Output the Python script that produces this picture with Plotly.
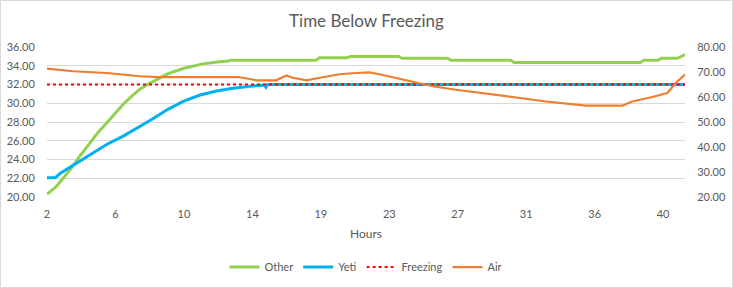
import plotly.graph_objects as go

# ---- data ----
tick_labels = ["2", "6", "10", "14", "19", "23", "27", "31", "36", "40"]

other_hours = [2.0, 2.5, 3.0, 3.42, 4.0, 4.65, 5.2, 5.68, 6.2, 6.7, 7.2, 7.73, 8.3, 8.85,
               9.4, 10.4, 11.6, 12.5, 13.2, 13.3, 18.6, 18.8, 20.5, 20.7, 23.7, 23.9,
               26.7, 26.9, 30.6, 30.8, 38.6, 38.8, 39.7, 39.9, 40.9, 41.35]
other_vals = [20.3, 21.0, 22.0, 22.9, 24.3, 25.8, 27.0, 27.9, 28.9, 29.9, 30.7, 31.5, 32.1, 32.6,
              33.1, 33.7, 34.2, 34.4, 34.5, 34.6, 34.6, 34.85, 34.85, 35.0, 35.0, 34.8,
              34.8, 34.6, 34.6, 34.35, 34.35, 34.6, 34.6, 34.8, 34.8, 35.2]

yeti_hours = [2.0, 2.5, 2.8, 3.62, 4.65, 5.68, 6.7, 7.73, 8.3, 8.85, 9.4, 10.4, 11.4,
              12.45, 13.47, 14.5, 15.1, 15.4, 15.5, 15.6, 41.35]
yeti_vals = [22.05, 22.05, 22.5, 23.4, 24.5, 25.6, 26.5, 27.5, 28.1, 28.7, 29.3, 30.2, 30.85,
             31.3, 31.6, 31.8, 31.95, 31.95, 31.7, 32.0, 32.0]

freezing_hours = [2.0, 41.35]
freezing_vals = [32.0, 32.0]

air_hours = [2.0, 3.62, 5.68, 7.73, 8.85, 13.78, 14.5, 14.91, 16.14, 16.45, 16.76, 17.1,
             18.0, 19.0, 20.04, 21.07, 21.89, 22.5, 23.53, 24.77, 25.79, 27.23, 28.66,
             30.71, 32.77, 35.23, 37.49, 38.1, 39.33, 40.26, 40.78, 41.39]
air_vals = [71.4, 70.3, 69.6, 68.3, 68.0, 68.0, 67.2, 66.7, 66.7, 67.6, 68.6, 67.8,
            66.7, 67.9, 69.1, 69.6, 69.8, 69.1, 67.6, 65.6, 64.3, 62.9, 61.8,
            60.0, 58.2, 56.6, 56.6, 58.2, 60.0, 61.6, 65.6, 69.2]

# ---- figure ----
FONT = "Lato"
GREY = "#595959"

fig = go.Figure()
fig.add_trace(go.Scatter(x=other_hours, y=other_vals, name="Other", mode="lines",
                         line=dict(color="#92D050", width=3)))
fig.add_trace(go.Scatter(x=yeti_hours, y=yeti_vals, name="Yeti", mode="lines",
                         line=dict(color="#00B0F0", width=3)))
fig.add_trace(go.Scatter(x=freezing_hours, y=freezing_vals, name="Freezing", mode="lines",
                         line=dict(color="#FF0000", width=2, dash="dot")))
fig.add_trace(go.Scatter(x=air_hours, y=air_vals, name="Air", mode="lines", yaxis="y2",
                         line=dict(color="#ED7D31", width=2.25)))

first, last = 2.0, 40.0
n = len(tick_labels)
tick_pos = [first + i * (last - first) / (n - 1) for i in range(n)]

W, H = 733, 288
ml, mr, mt, mb = 47, 48, 47, 91
pw, ph = W - ml - mr, H - mt - mb
bottom_px = H - mb  # pixel row of plot bottom


def py(p):
    """paper y for a pixel row"""
    return (bottom_px - p) / ph


def px(p):
    return (p - ml) / pw


fig.update_layout(
    width=W, height=H,
    margin=dict(l=ml, r=mr, t=mt, b=mb, autoexpand=False),
    paper_bgcolor="white", plot_bgcolor="white",
    font=dict(family=FONT, size=11, color=GREY),
    title=dict(text="Time Below Freezing", x=0.5, xanchor="center",
               y=1 - 21 / H, yanchor="middle",
               font=dict(family=FONT, size=17, color=GREY)),
    xaxis=dict(range=[2.0, 41.35], tickvals=tick_pos, ticktext=tick_labels,
               showgrid=False, zeroline=False, showline=False, automargin=False,
               ticks="outside", ticklen=7, tickcolor="rgba(0,0,0,0)",
               tickfont=dict(family=FONT, size=11, color=GREY),
               title=dict(text="Hours", standoff=10,
                          font=dict(family=FONT, size=12, color=GREY))),
    yaxis=dict(range=[20, 36], dtick=2, tick0=20, tickformat=".2f", automargin=False,
               showgrid=True, gridcolor="#D9D9D9", gridwidth=1,
               zeroline=False, showline=False,
               ticks="outside", ticklen=9, tickcolor="rgba(0,0,0,0)",
               tickfont=dict(family=FONT, size=11, color=GREY)),
    yaxis2=dict(range=[20, 80], dtick=10, tick0=20, tickformat=".2f", automargin=False,
                overlaying="y", side="right", showgrid=False, zeroline=False,
                showline=False, ticks="outside", ticklen=9,
                tickcolor="rgba(0,0,0,0)",
                tickfont=dict(family=FONT, size=11, color=GREY)),
    legend=dict(orientation="h", x=0.5, xanchor="center",
                y=py(267), yanchor="middle",
                font=dict(family=FONT, size=11, color=GREY),
                itemwidth=30, tracegroupgap=0),
    showlegend=True,
)

# chart-area border
fig.add_shape(type="rect", xref="paper", yref="paper",
              x0=px(0.5), x1=px(W - 0.5), y0=py(H - 0.5), y1=py(0.5),
              line=dict(color="#D9D9D9", width=1), layer="below")

fig.write_html("out.html")
